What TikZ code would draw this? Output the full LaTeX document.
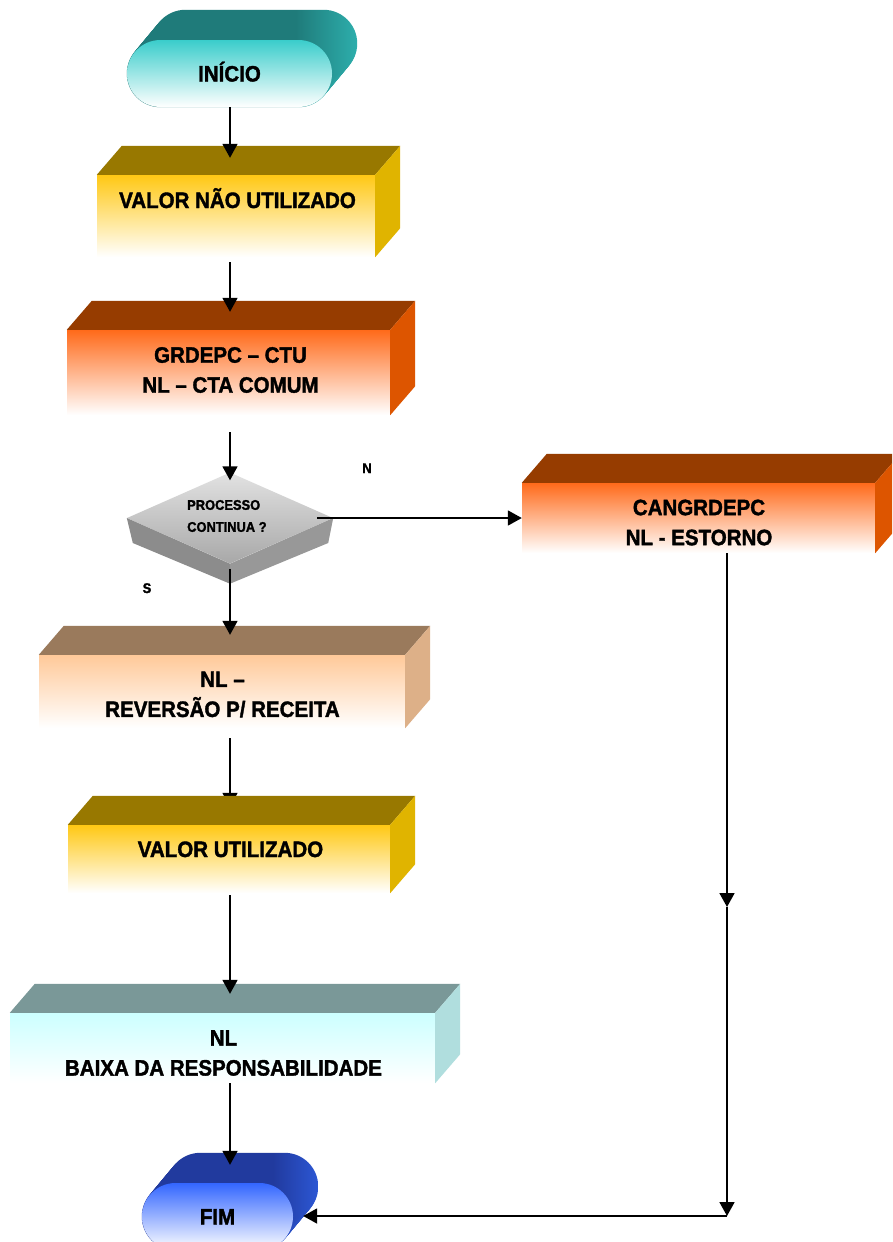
\documentclass[tikz,border=0pt]{standalone}
\usepackage{fontspec}
\newfontfamily\boxfont[FakeStretch=0.92, BoldFeatures={FakeBold=1.6}]{Liberation Sans}
\usetikzlibrary{calc,arrows.meta,shapes.geometric}

\pgfdeclarelayer{bg}
\pgfdeclarelayer{back}
\pgfsetlayers{bg,back,main}

% palette
\definecolor{goldTop}{HTML}{987800}
\definecolor{goldFront}{HTML}{FFC814}
\definecolor{goldSide}{HTML}{E0B400}
\definecolor{orTop}{HTML}{963C00}
\definecolor{orFront}{HTML}{FF6A1A}
\definecolor{orSide}{HTML}{DD5500}
\definecolor{peTop}{HTML}{9A7A5C}
\definecolor{peFront}{HTML}{FFC999}
\definecolor{peSide}{HTML}{DDB088}
\definecolor{cyTop}{HTML}{7A9898}
\definecolor{cyFront}{HTML}{CCFFFF}
\definecolor{cySide}{HTML}{B0DEDE}
\definecolor{teDark}{HTML}{1F7B7A}
\definecolor{teLight}{HTML}{2DAEAC}
\definecolor{teFront}{HTML}{3ACDCB}
\definecolor{blDark}{HTML}{213A9E}
\definecolor{blLight}{HTML}{2C57D4}
\definecolor{blFront}{HTML}{3366FF}
\definecolor{dTop}{HTML}{E2E2E2}
\definecolor{dBot}{HTML}{A8A8A8}
\definecolor{dLeft}{HTML}{8C8C8C}
\definecolor{dRight}{HTML}{989898}

% extrusion shadings of the terminators: dark on top, lighter round the right end
\pgfdeclarehorizontalshading{tealband}{100bp}{color(0bp)=(teDark); color(60bp)=(teDark); color(75bp)=(teLight); color(100bp)=(teLight)}
\pgfdeclarehorizontalshading{blueband}{100bp}{color(0bp)=(blDark); color(60bp)=(blDark); color(75bp)=(blLight); color(100bp)=(blLight)}

\tikzset{
  face/.style={draw=none, inner sep=0pt, rectangle},
  lbl/.style={font=\boxfont\bfseries\fontsize{22.3}{30}\selectfont, align=center, inner sep=0pt},
  one/.style={text height=16pt, text depth=0pt},
  small/.style={font=\boxfont\bfseries\fontsize{14}{22}\selectfont, align=left, inner sep=0pt},
  arr/.style={line width=1.8pt, -{Triangle[length=14pt,width=15pt]}},
}

% top and right faces of a 3-D block whose front face is node #1
\newcommand\blocksides[3]{%
  \fill[#2] (#1.north west) -- ++(25,-29) -- ($(#1.north east)+(25,-29)$) -- (#1.north east) -- cycle;
  \fill[#3] (#1.north east) -- ++(25,-29) -- ($(#1.south east)+(25,-29)$) -- (#1.south east) -- cycle;
}
% extruded body of a rounded terminator whose front face is node #1
\newcommand\termbody[2]{%
  \begin{pgfonlayer}{back}
  \foreach \k in {0,...,25}{
    \shade[shading=#2, rounded corners=33.5pt]
      ($(#1.south west)+(\k,-1.2*\k)$) rectangle ($(#1.north east)+(\k,-1.2*\k)$);
  }
  \end{pgfonlayer}
}

\begin{document}
\begin{tikzpicture}[x=1pt,y=-1pt]
\useasboundingbox (0,0) rectangle (892,1242);
\clip (0,0) rectangle (892,1242);
\begin{pgfonlayer}{bg}
  \fill[white] (0,0) rectangle (892,1242);
\end{pgfonlayer}

% start terminator
\node[face, lbl, one, minimum width=205pt, minimum height=67pt, rounded corners=33.5pt,
      top color=teFront, bottom color=white] (ini) at (229.5,73.5) {INÍCIO};
\termbody{ini}{tealband}

% VALOR NÃO UTILIZADO
\node[face, minimum width=278pt, minimum height=82pt, top color=goldFront, bottom color=white] (b1) at (236,216) {};
\blocksides{b1}{goldTop}{goldSide}
\node[lbl, one] (b1t) at (237.5,200) {VALOR NÃO UTILIZADO};

% GRDEPC – CTU
\node[face, minimum width=323pt, minimum height=85pt, top color=orFront, bottom color=white] (b2) at (228.5,372.5) {};
\blocksides{b2}{orTop}{orSide}
\node[lbl] (b2t) at (230.5,370) {GRDEPC – CTU\\NL – CTA COMUM};

% decision
\node[diamond, draw=none, inner sep=0pt, minimum width=206pt, minimum height=91pt,
      top color=dTop, bottom color=dBot] (dia) at (230,518) {};
\fill[dLeft] (dia.west) -- ++(6,25) -- ($(dia.south)+(0,20)$) -- (dia.south) -- cycle;
\fill[dRight] (dia.south) -- ($(dia.south)+(0,20)$) -- ($(dia.east)+(-5,25)$) -- (dia.east) -- cycle;
\node[small, anchor=west] (diat) at (187,516) {PROCESSO\\CONTINUA ?};
\node[small, text height=10pt, text depth=0pt] (nlab) at (367,468) {N};
\node[small, text height=10pt, text depth=0pt] (slab) at (147,588) {S};

% CANGRDEPC
\node[face, minimum width=353pt, minimum height=70pt, top color=orFront, bottom color=white] (can) at (698.5,518) {};
\blocksides{can}{orTop}{orSide}
\node[lbl] (cant) at (699,522.5) {CANGRDEPC\\NL - ESTORNO};

% NL – REVERSÃO P/ RECEITA
\node[face, minimum width=366pt, minimum height=73pt, top color=peFront, bottom color=white] (rev) at (222,691.5) {};
\blocksides{rev}{peTop}{peSide}
\node[lbl] (revt) at (222.5,694.5) {NL –\\REVERSÃO P/ RECEITA};

% VALOR UTILIZADO
\node[face, minimum width=322pt, minimum height=68pt, top color=goldFront, bottom color=white] (vu) at (229,859) {};
\blocksides{vu}{goldTop}{goldSide}
\node[lbl, one] (vut) at (230.5,849) {VALOR UTILIZADO};

% NL BAIXA DA RESPONSABILIDADE
\node[face, minimum width=425pt, minimum height=70pt, top color=cyFront, bottom color=white] (bx) at (222.5,1048) {};
\blocksides{bx}{cyTop}{cySide}
\node[lbl] (bxt) at (223.5,1053) {NL\\BAIXA DA RESPONSABILIDADE};

% end terminator
\node[face, lbl, one, minimum width=151pt, minimum height=67pt, rounded corners=33.5pt,
      top color=blFront, bottom color=white] (fim) at (217.5,1216.5) {FIM};
\termbody{fim}{blueband}

% connectors
\coordinate (spine) at (230,0);
\coordinate (mid) at (727,907);
\coordinate (corner) at (727,1216);

\draw[arr, shorten >=17pt] (ini.south -| spine) -- (b1.north -| spine);
\draw[arr, shorten <=5pt, shorten >=18pt] (b1.south -| spine) -- (b2.north -| spine);
\draw[arr, shorten <=17pt, shorten >=-8pt] (b2.south -| spine) -- (dia.north);
\draw[arr, shorten <=-16pt] (dia.east) -- (can.west);
\draw[arr, shorten <=5pt, shorten >=20pt] (dia.south) -- (rev.north -| spine);
\begin{pgfonlayer}{back}
  \draw[arr, shorten <=10pt, shorten >=18pt] (rev.south -| spine) -- (vu.north -| spine);
\end{pgfonlayer}
\draw[arr, shorten <=2pt, shorten >=19pt] (vu.south -| spine) -- (bx.north -| spine);
\draw[arr, shorten >=18pt] (bx.south -| spine) -- (fim.north -| spine);

\draw[arr] (can.south -| mid) -- (mid);
\draw[arr] (mid) -- (corner);
\draw[arr, shorten >=10pt] (corner) -- (fim.east |- corner);
\end{tikzpicture}
\end{document}
